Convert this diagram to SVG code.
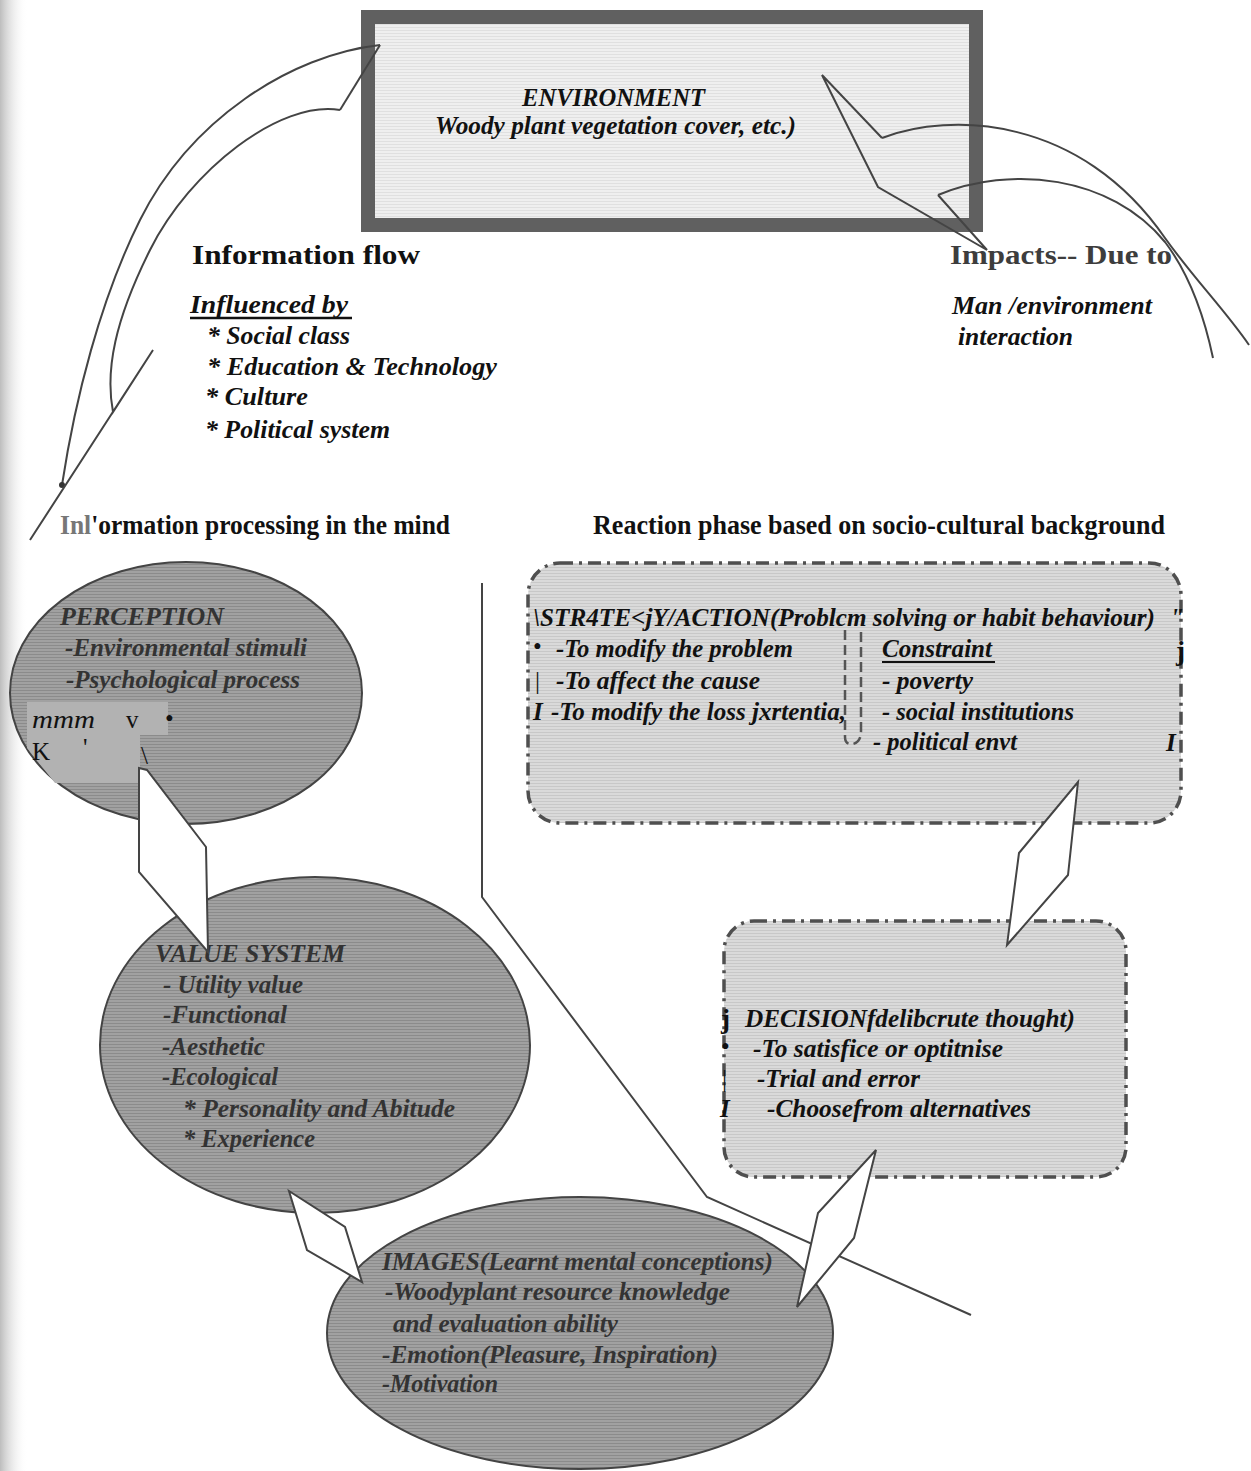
<svg xmlns="http://www.w3.org/2000/svg" width="1251" height="1471" viewBox="0 0 1251 1471">
<defs>
<style>
.t{font-family:"Liberation Serif","Times New Roman",serif;font-weight:bold;font-style:italic;font-size:26px;fill:#111}
.h{font-family:"Liberation Serif","Times New Roman",serif;font-weight:bold;font-size:27px;fill:#111}
.r{font-family:"Liberation Serif","Times New Roman",serif;font-size:25px;fill:#111}
.e{font-family:"Liberation Serif","Times New Roman",serif;font-weight:bold;font-style:italic;font-size:26px;fill:#333}
.s{font-family:"Liberation Serif","Times New Roman",serif;font-weight:bold;font-style:italic;font-size:25px;fill:#111}
.ell{stroke:#444;stroke-width:2}
.box{stroke:#4f4f4f;stroke-width:3.5;stroke-dasharray:13 6 3 6}
.arr{fill:#fff;stroke:#444;stroke-width:2;stroke-linejoin:miter}
.ln{fill:none;stroke:#444;stroke-width:2}
</style>
<pattern id="pe" width="4" height="3" patternUnits="userSpaceOnUse"><rect width="4" height="3" fill="#a1a1a1"/><rect width="4" height="1" fill="#8b8b8b"/></pattern>
<pattern id="pb" width="4" height="3" patternUnits="userSpaceOnUse"><rect width="4" height="3" fill="#dadada"/><rect width="4" height="1" fill="#c8c8c8"/></pattern>
<pattern id="pn" width="4" height="3" patternUnits="userSpaceOnUse"><rect width="4" height="3" fill="#efefef"/><rect width="4" height="1" fill="#e0e0e0"/></pattern>
<linearGradient id="edge" x1="0" y1="0" x2="1" y2="0"><stop offset="0" stop-color="#bdbdbd"/><stop offset="1" stop-color="#fff" stop-opacity="0"/></linearGradient>
</defs>
<rect width="1251" height="1471" fill="#fff"/>
<rect width="28" height="1471" fill="url(#edge)"/>

<g id="environment">
<rect x="368" y="17" width="608" height="208" fill="url(#pn)" stroke="#606060" stroke-width="14"/>
<text class="t" x="522" y="106" font-size="27" textLength="183" lengthAdjust="spacingAndGlyphs">ENVIRONMENT</text>
<text class="t" x="435" y="134" font-size="27" textLength="361" lengthAdjust="spacingAndGlyphs">Woody plant vegetation cover, etc.)</text>
</g>

<g id="information-flow">
<text class="h" x="192" y="264" font-size="31" textLength="228" lengthAdjust="spacingAndGlyphs">Information flow</text>
<text class="t" x="190" y="313" textLength="158" lengthAdjust="spacingAndGlyphs">Influenced  by</text>
<line x1="190" y1="318" x2="352" y2="318" stroke="#111" stroke-width="2.5"/>
<text class="t" x="207" y="344" textLength="143" lengthAdjust="spacingAndGlyphs">* Social  class</text>
<text class="t" x="207" y="375" textLength="290" lengthAdjust="spacingAndGlyphs">* Education  &amp;  Technology</text>
<text class="t" x="205" y="405" textLength="103" lengthAdjust="spacingAndGlyphs">* Culture</text>
<text class="t" x="205" y="438" textLength="185" lengthAdjust="spacingAndGlyphs">* Political  system</text>
</g>

<g id="impacts">
<text class="h" x="950" y="264" font-size="31" style="fill:#3d3d3d" textLength="222" lengthAdjust="spacingAndGlyphs">Impacts-- Due to</text>
<text class="t" x="952" y="314" textLength="200" lengthAdjust="spacingAndGlyphs">Man  /environment</text>
<text class="t" x="958" y="345" textLength="115" lengthAdjust="spacingAndGlyphs">interaction</text>
</g>

<g id="headers">
<text class="h" x="60" y="534" textLength="390" lengthAdjust="spacingAndGlyphs"><tspan style="fill:#777">Inl</tspan>'ormation processing in the mind</text>
<text class="h" x="593" y="534" textLength="572" lengthAdjust="spacingAndGlyphs">Reaction phase based on socio-cultural  background</text>
</g>

<g id="perception">
<ellipse class="ell" cx="186" cy="693" rx="176" ry="131" fill="url(#pe)"/>
<polygon points="27,702 168,702 168,735 140,735 140,783 55,783 27,748" fill="#b2b2b2"/>
<text class="e" x="60" y="625" textLength="164" lengthAdjust="spacingAndGlyphs">PERCEPTION</text>
<text class="e" x="65" y="656" textLength="242" lengthAdjust="spacingAndGlyphs">-Environmental stimuli</text>
<text class="e" x="66" y="688" textLength="234" lengthAdjust="spacingAndGlyphs">-Psychological process</text>
<text class="r" x="32" y="728" font-style="italic" font-size="27" textLength="63" lengthAdjust="spacingAndGlyphs">mmm</text>
<text class="r" x="126" y="728">v</text>
<text class="r" x="165" y="727" font-size="22">•</text>
<text class="r" x="32" y="760" font-size="27">K</text>
<text class="r" x="83" y="756">'</text>
<text class="r" x="141" y="764" font-size="22">\</text>
</g>

<g id="value-system">
<ellipse class="ell" cx="315" cy="1045" rx="215" ry="168" fill="url(#pe)"/>
<text class="e" x="155" y="962" textLength="190" lengthAdjust="spacingAndGlyphs">VALUE SYSTEM</text>
<text class="e" x="163" y="993" textLength="140" lengthAdjust="spacingAndGlyphs">- Utility value</text>
<text class="e" x="163" y="1023" textLength="124" lengthAdjust="spacingAndGlyphs">-Functional</text>
<text class="e" x="162" y="1055" textLength="103" lengthAdjust="spacingAndGlyphs">-Aesthetic</text>
<text class="e" x="162" y="1085" textLength="116" lengthAdjust="spacingAndGlyphs">-Ecological</text>
<text class="e" x="183" y="1117" textLength="272" lengthAdjust="spacingAndGlyphs">* Personality and Abitude</text>
<text class="e" x="183" y="1147" textLength="132" lengthAdjust="spacingAndGlyphs">* Experience</text>
</g>

<g id="images">
<ellipse class="ell" cx="580" cy="1333" rx="253" ry="136" fill="url(#pe)"/>
<text class="e" x="382" y="1270" textLength="391" lengthAdjust="spacingAndGlyphs">IMAGES(Learnt mental conceptions)</text>
<text class="e" x="385" y="1300" textLength="345" lengthAdjust="spacingAndGlyphs">-Woodyplant resource knowledge</text>
<text class="e" x="393" y="1332" textLength="225" lengthAdjust="spacingAndGlyphs">and evaluation ability</text>
<text class="e" x="382" y="1363" textLength="336" lengthAdjust="spacingAndGlyphs">-Emotion(Pleasure, Inspiration)</text>
<text class="e" x="382" y="1392" textLength="116" lengthAdjust="spacingAndGlyphs">-Motivation</text>
</g>

<g id="strategy">
<rect class="box" x="528" y="563" width="653" height="260" rx="32" fill="url(#pb)"/>
<path d="M845,630 L845,737 Q845,745 853,744 Q861,742 861,731 L861,630" fill="none" stroke="#555" stroke-width="2.5" stroke-dasharray="10 5"/>
<text class="s" x="533" y="626" textLength="622" lengthAdjust="spacingAndGlyphs">\STR4TE&lt;jY/ACTION(Problcm  solving  or  habit  behaviour)</text>
<text class="s" x="1170" y="626">"</text>
<text class="r" x="533" y="655" font-size="16">•</text>
<text class="s" x="556" y="657" textLength="237" lengthAdjust="spacingAndGlyphs">-To modify the problem</text>
<text class="s" x="882" y="657" textLength="110" lengthAdjust="spacingAndGlyphs">Constraint</text>
<line x1="882" y1="662" x2="995" y2="662" stroke="#111" stroke-width="2"/>
<text class="h" x="1176" y="660" font-size="24">j</text>
<text class="r" x="535" y="689" font-size="24">|</text>
<text class="s" x="556" y="689" textLength="204" lengthAdjust="spacingAndGlyphs">-To affect the cause</text>
<text class="s" x="882" y="689" textLength="91" lengthAdjust="spacingAndGlyphs">-  poverty</text>
<text class="s" x="533" y="720">I</text>
<text class="s" x="551" y="720" textLength="295" lengthAdjust="spacingAndGlyphs">-To modify the loss jxrtentia,</text>
<text class="s" x="882" y="720" textLength="192" lengthAdjust="spacingAndGlyphs">- social institutions</text>
<text class="s" x="873" y="750" textLength="144" lengthAdjust="spacingAndGlyphs">- political envt</text>
<text class="s" x="1166" y="751">I</text>
</g>

<g id="decision">
<rect class="box" x="724" y="921" width="402" height="256" rx="30" fill="url(#pb)"/>
<text class="h" x="721" y="1028" font-size="24">j</text>
<text class="s" x="745" y="1027" textLength="330" lengthAdjust="spacingAndGlyphs">DECISIONfdelibcrute thought)</text>
<text class="r" x="721" y="1055" font-size="16">•</text>
<text class="s" x="753" y="1057" textLength="250" lengthAdjust="spacingAndGlyphs">-To satisfice or optitnise</text>
<text class="r" x="722" y="1087" font-size="24">|</text>
<text class="s" x="757" y="1087" textLength="163" lengthAdjust="spacingAndGlyphs">-Trial and error</text>
<text class="s" x="720" y="1117">I</text>
<text class="s" x="767" y="1117" textLength="264" lengthAdjust="spacingAndGlyphs">-Choosefrom alternatives</text>
</g>

<g id="connectors">
<path class="ln" d="M380,45 L340,110"/>
<path class="ln" d="M380,45 C290,55 190,120 140,220 C100,300 75,400 62,485"/>
<circle cx="62" cy="485" r="3" fill="#333"/>
<path class="ln" d="M340,110 C280,100 190,170 150,250 C115,320 105,370 113,412 L153,350 L30,540"/>
<path class="ln" d="M882,138 L822,75 L878,187 L987,250 L938,195"/>
<path class="ln" d="M882,138 C950,112 1080,115 1165,238 C1195,280 1225,310 1249,345"/>
<path class="ln" d="M938,195 C1010,165 1110,175 1165,242 C1190,275 1205,320 1213,358"/>
<polyline class="ln" points="482,583 482,897 707,1197 971,1315"/>
<polygon class="arr" points="139,768 147,770 206,847 208,952 139,872"/>
<polygon class="arr" points="289,1191 345,1227 362,1282 307,1250"/>
<polygon class="arr" points="1078,782 1068,875 1007,945 1019,853"/>
<polygon class="arr" points="876,1150 854,1238 797,1307 818,1213"/>
</g>
</svg>
